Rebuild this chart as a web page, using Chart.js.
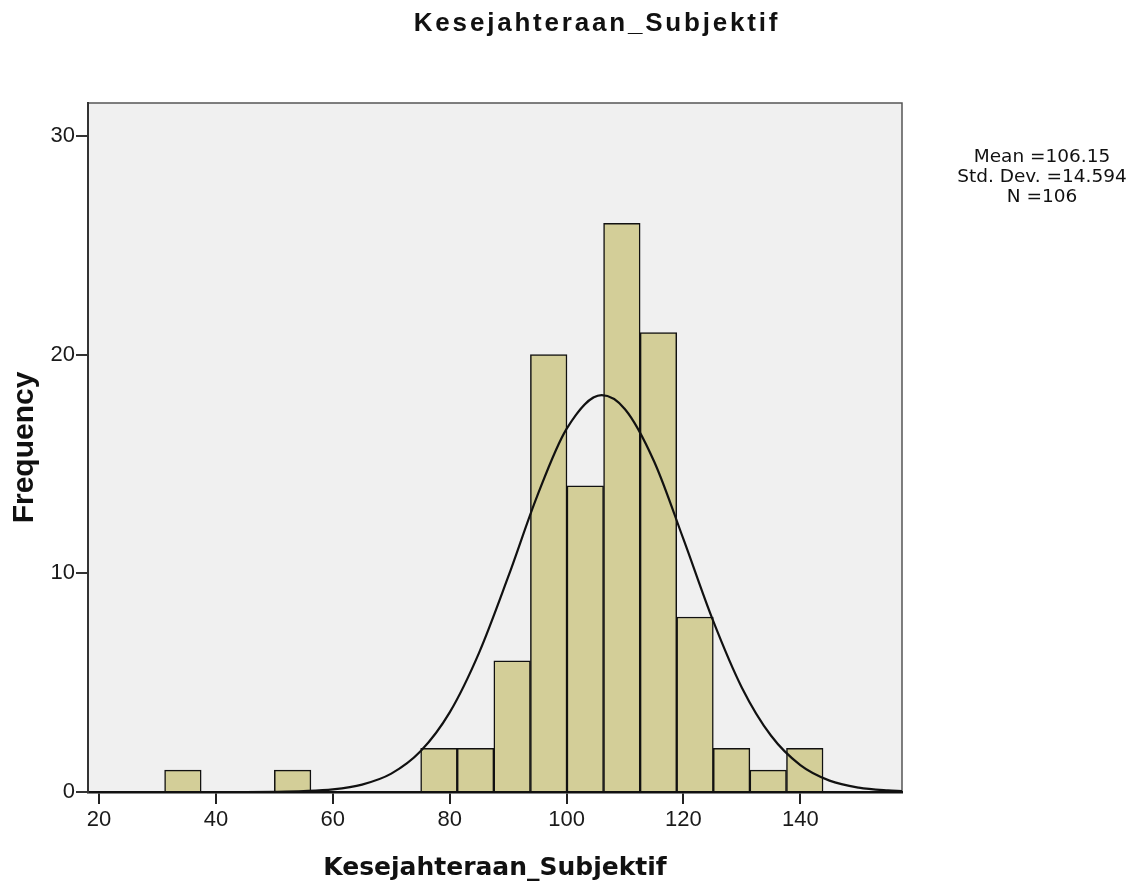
<!DOCTYPE html>
<html>
<head>
<meta charset="utf-8">
<script src="https://cdn.jsdelivr.net/npm/chart.js@4.4.1/dist/chart.umd.min.js"></script>
<style>
  body { margin: 0; background: #fff; }
  #wrap { position: relative; width: 1141px; height: 884px; }
  #c { display: block; }
  #title {
    position: absolute; left: 297px; top: 9px; width: 600px;
    text-align: center; font: bold 26px "Liberation Sans", Arial, sans-serif;
    line-height: 26px; letter-spacing: 2.8px; color: #111;
  }
  #stats {
    position: absolute; left: 942px; top: 146px; width: 200px;
    text-align: center; font: 18.5px "DejaVu Sans", sans-serif;
    line-height: 20px; color: #111;
  }
</style>
</head>
<body>
<div id="wrap">
  <canvas id="c" width="1141" height="884"></canvas>
  <div id="title"></div>
  <div id="stats"></div>
</div>
<script>
// histogram bins (centre of each bar) and frequencies
const binMid = [34.34, 53.12, 78.16, 84.42, 90.68, 96.94, 103.20, 109.46, 115.72, 121.98, 128.24, 134.50, 140.76];
const counts = [1, 1, 2, 2, 6, 20, 14, 26, 21, 8, 2, 1, 2];

// normal curve
const curveX = [20, 25, 30, 35, 40, 45, 50, 55, 60, 65, 70, 75, 80, 85, 90, 95, 100, 106, 110, 115, 120, 125, 130, 135, 140, 145, 150, 155, 157.4];
const curveY = [0, 0, 0, 0, 0, 0, 0.01, 0.04, 0.12, 0.34, 0.84, 1.86, 3.64, 6.35, 9.83, 13.55, 16.6, 18.14, 17.5, 15.1, 11.56, 7.88, 4.77, 2.57, 1.23, 0.52, 0.2, 0.07, 0.04];

const xTicks = [20, 40, 60, 80, 100, 120, 140];
const yTicks = [0, 10, 20, 30];

const varName = 'Kesejahteraan_Subjektif';
const meanTxt = '106.15';
const sdTxt = '14.594';
const nTxt = '106';

document.getElementById('title').textContent = varName;
document.getElementById('stats').innerHTML =
  'Mean =' + meanTxt + '<br>Std. Dev. =' + sdTxt + '<br>N =' + nTxt;

const plotBg = {
  id: 'plotBg',
  beforeDraw(chart) {
    const { ctx, chartArea: a } = chart;
    ctx.save();
    ctx.fillStyle = '#f0f0f0';
    ctx.fillRect(a.left, a.top, a.right - a.left, a.bottom - a.top);
    ctx.strokeStyle = '#555';
    ctx.lineWidth = 1.5;
    ctx.strokeRect(a.left, a.top, a.right - a.left, a.bottom - a.top);
    ctx.restore();
  }
};

const tickFont = { family: '"Liberation Sans", Arial, sans-serif', size: 22 };

new Chart(document.getElementById('c'), {
  type: 'bar',
  data: {
    datasets: [
      {
        type: 'line',
        data: curveX.map((x, i) => ({ x, y: curveY[i] })),
        borderColor: '#111',
        borderWidth: 2.2,
        pointRadius: 0,
        cubicInterpolationMode: 'monotone',
        order: 0
      },
      {
        type: 'bar',
        data: binMid.map((x, i) => ({ x, y: counts[i] })),
        backgroundColor: '#d3ce98',
        borderColor: '#111',
        borderWidth: 1.5,
        barPercentage: 1,
        categoryPercentage: 1,
        order: 1
      }
    ]
  },
  options: {
    responsive: false,
    devicePixelRatio: 1,
    animation: false,
    layout: { padding: { left: 0, top: 103, right: 239, bottom: 0 } },
    plugins: { legend: { display: false }, tooltip: { enabled: false } },
    scales: {
      x: {
        type: 'linear',
        min: 18.1,
        max: 157.4,
        offset: false,
        afterBuildTicks: s => { s.ticks = xTicks.map(v => ({ value: v })); },
        afterFit: s => { s.height = 92; },
        grid: { display: true, offset: false, drawOnChartArea: false, drawTicks: true, tickLength: 12, color: '#222', lineWidth: 2 },
        border: { display: true, color: '#111', width: 2.5 },
        ticks: { font: tickFont, color: '#1a1a1a', padding: 3, maxRotation: 0 },
        title: {
          display: true, text: varName, color: '#111',
          font: { family: '"DejaVu Sans", sans-serif', size: 25, weight: 'bold' },
          padding: { top: 0, bottom: 1 }
        }
      },
      y: {
        min: 0,
        max: 31.5,
        afterBuildTicks: s => { s.ticks = yTicks.map(v => ({ value: v })); },
        afterFit: s => { s.width = 88; },
        grid: { display: true, drawOnChartArea: false, drawTicks: true, tickLength: 12, color: '#333', lineWidth: 2 },
        border: { display: true, color: '#333', width: 2 },
        ticks: { font: tickFont, color: '#1a1a1a', padding: 1 },
        title: {
          display: true, text: 'Frequency', color: '#111',
          font: { family: '"Liberation Sans", Arial, sans-serif', size: 30, weight: 'bold' },
          padding: { top: 7, bottom: 0 }
        }
      }
    }
  },
  plugins: [plotBg]
});
</script>
</body>
</html>
